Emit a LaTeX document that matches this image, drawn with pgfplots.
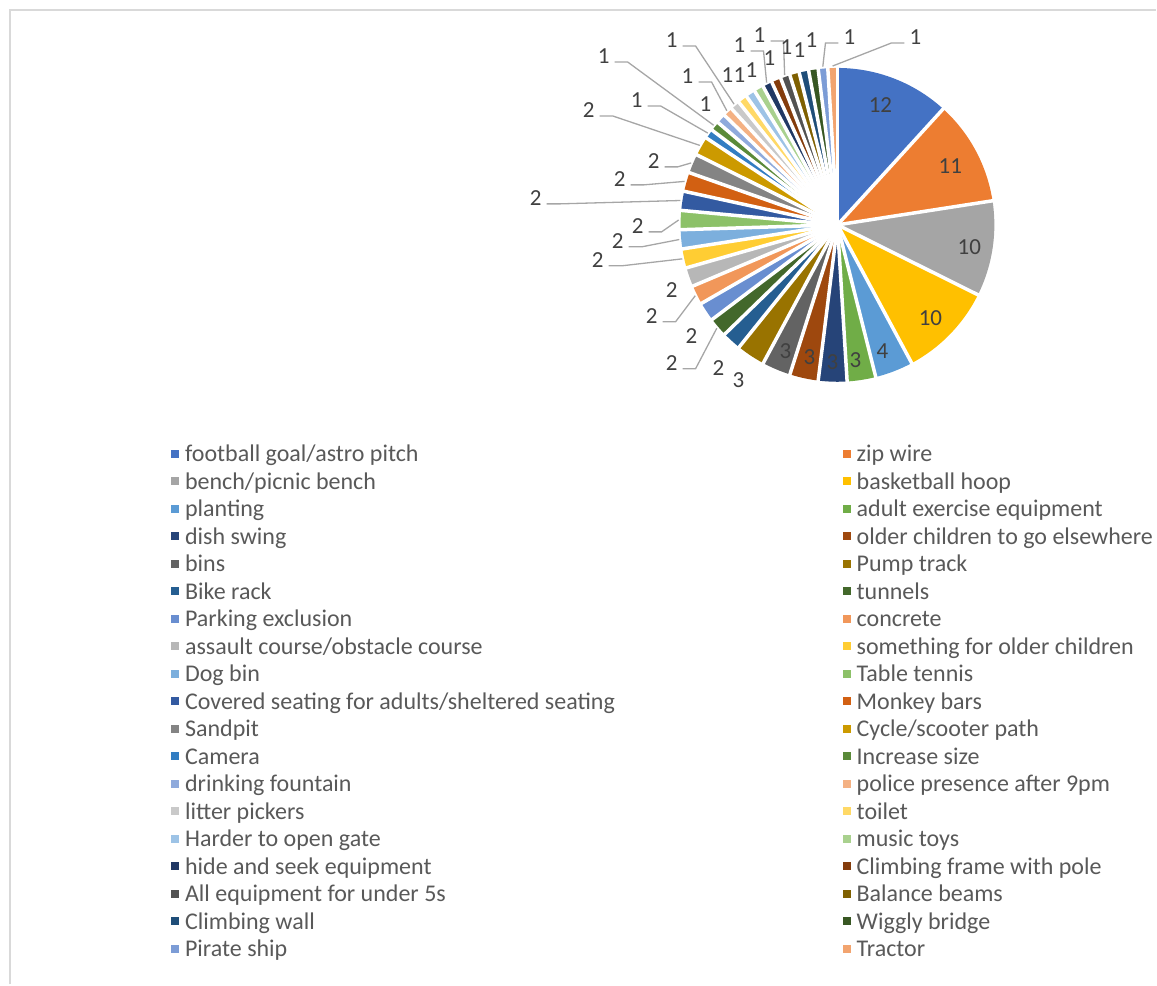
\documentclass[border=0pt]{standalone}
\usepackage{pgfplots}
\pgfplotsset{compat=1.18}
\usepackage{pgfplotstable}
\usepackage{fontspec}
\setmainfont{Carlito}

\definecolor{c0}{HTML}{4472C4}\definecolor{c1}{HTML}{ED7D31}\definecolor{c2}{HTML}{A5A5A5}
\definecolor{c3}{HTML}{FFC000}\definecolor{c4}{HTML}{5B9BD5}\definecolor{c5}{HTML}{70AD47}
\definecolor{c6}{HTML}{264478}\definecolor{c7}{HTML}{9E480E}\definecolor{c8}{HTML}{636363}
\definecolor{c9}{HTML}{997300}\definecolor{c10}{HTML}{255E91}\definecolor{c11}{HTML}{43682B}
\definecolor{c12}{HTML}{698ED0}\definecolor{c13}{HTML}{F1975A}\definecolor{c14}{HTML}{B7B7B7}
\definecolor{c15}{HTML}{FFCD33}\definecolor{c16}{HTML}{7CAFDD}\definecolor{c17}{HTML}{8CC168}
\definecolor{c18}{HTML}{335AA1}\definecolor{c19}{HTML}{D26012}\definecolor{c20}{HTML}{848484}
\definecolor{c21}{HTML}{CC9A00}\definecolor{c22}{HTML}{327DC2}\definecolor{c23}{HTML}{5A8A39}
\definecolor{c24}{HTML}{8FAADC}\definecolor{c25}{HTML}{F4B183}\definecolor{c26}{HTML}{C9C9C9}
\definecolor{c27}{HTML}{FFD966}\definecolor{c28}{HTML}{9DC3E6}\definecolor{c29}{HTML}{A9D18E}
\definecolor{c30}{HTML}{203864}\definecolor{c31}{HTML}{843C0C}\definecolor{c32}{HTML}{525252}
\definecolor{c33}{HTML}{7F6000}\definecolor{c34}{HTML}{1F4E79}\definecolor{c35}{HTML}{385723}
\definecolor{c36}{HTML}{7C9CD6}\definecolor{c37}{HTML}{F2A46F}
\definecolor{lbl}{HTML}{404040}
\definecolor{legtxt}{HTML}{595959}
\definecolor{leader}{HTML}{A6A6A6}
\definecolor{frame}{HTML}{D9D9D9}

% value of each slice; lx,ly = label position in px (from top left);
% lead: 0 no leader line, 1 line leaves to the right, -1 to the left
\pgfplotstableread[col sep=comma]{
name,val,lx,ly,lead
football goal/astro pitch,12,881,105,0
zip wire,11,951,166,0
bench/picnic bench,10,970,247,0
basketball hoop,10,931,318,0
planting,4,883,351,0
adult exercise equipment,3,856,360,0
dish swing,3,833,362,0
older children to go elsewhere,3,810,357,0
bins,3,786,351,0
Pump track,3,739,380,0
Bike rack,2,719,368,0
tunnels,2,672,363,1
Parking exclusion,2,692,336,0
concrete,2,652,316,1
assault course/obstacle course,2,672,290,0
something for older children,2,598,260,1
Dog bin,2,618,241,1
Table tennis,2,638,226,1
Covered seating for adults/sheltered seating,2,536,198,1
Monkey bars,2,620,179,1
Sandpit,2,654,161,1
Cycle/scooter path,2,589,110,1
Camera,1,637,100,1
Increase size,1,604,56,1
drinking fountain,1,706,104,0
police presence after 9pm,1,688,76,1
litter pickers,1,672,40,1
toilet,1,728,75,0
Harder to open gate,1,740,75,0
music toys,1,752,70,0
hide and seek equipment,1,740,45,1
Climbing frame with pole,1,770,58,0
All equipment for under 5s,1,760,35,1
Balance beams,1,787,47,0
Climbing wall,1,800,50,0
Wiggly bridge,1,812,40,0
Pirate ship,1,850,37,-1
Tractor,1,916,37,-1
}\slices

\def\cx{838}\def\cy{225}\def\rad{157}

\pgfplotstablegetrowsof{\slices}
\pgfmathtruncatemacro\nlast{\pgfplotsretval-1}
\def\total{0}
\pgfplotsforeachungrouped \i in {0,...,\nlast}{%
  \pgfplotstablegetelem{\i}{val}\of\slices
  \pgfmathsetmacro\total{\total+\pgfplotsretval}}

\def\cum{0}
\pgfplotsforeachungrouped \i in {0,...,\nlast}{%
  \pgfplotstablegetelem{\i}{val}\of\slices \let\sv\pgfplotsretval
  \pgfmathsetmacro\ta{90-360*(\cum/\total)}%
  \pgfmathsetmacro\cum{\cum+\sv}%
  \pgfmathsetmacro\tb{90-360*(\cum/\total)}%
  \pgfmathsetmacro\tm{(\ta+\tb)/2}%
  \pgfmathsetmacro\ex{\cx+(\rad+2)*cos(\tm)}%
  \pgfmathsetmacro\ey{\cy-(\rad+2)*sin(\tm)}%
  \expandafter\xdef\csname ta\i\endcsname{\ta}%
  \expandafter\xdef\csname tb\i\endcsname{\tb}%
  \expandafter\xdef\csname sv\i\endcsname{\sv}%
  \expandafter\xdef\csname ex\i\endcsname{\ex}%
  \expandafter\xdef\csname ey\i\endcsname{\ey}%
  \pgfplotstablegetelem{\i}{name}\of\slices
  \expandafter\xdef\csname nm\i\endcsname{\pgfplotsretval}%
  \pgfplotstablegetelem{\i}{lx}\of\slices \let\lx\pgfplotsretval
  \pgfplotstablegetelem{\i}{ly}\of\slices \let\ly\pgfplotsretval
  \pgfplotstablegetelem{\i}{lead}\of\slices \let\ld\pgfplotsretval
  \expandafter\xdef\csname lx\i\endcsname{\lx}%
  \expandafter\xdef\csname ly\i\endcsname{\ly}%
  \expandafter\xdef\csname ld\i\endcsname{\ld}%
  \pgfmathsetmacro\sx{\lx+\ld*11}%
  \pgfmathsetmacro\kx{\lx+\ld*24}%
  \pgfmathsetmacro\sy{\ly+6}%
  \expandafter\xdef\csname sx\i\endcsname{\sx}%
  \expandafter\xdef\csname kx\i\endcsname{\kx}%
  \expandafter\xdef\csname sy\i\endcsname{\sy}%
}

\begin{document}
\begin{tikzpicture}
\begin{axis}[
    width=1157pt, height=985pt, scale only axis,
    xmin=0, xmax=1157, ymin=0, ymax=985, y dir=reverse,
    hide axis, clip=false,
    legend columns=2,
    legend cell align=left,
    legend image code/.code={\fill[#1] (0pt,-2pt) rectangle (8pt,6pt);},
    legend style={at={(axis cs:171,444)}, anchor=north west, draw=none, fill=none,
      font=\fontsize{24}{27.5}\selectfont, text=legtxt, inner sep=0pt,
      row sep=3.5pt,
      nodes={inner sep=0pt, text height=18pt, text depth=6pt},
      /tikz/every odd column/.append style={column sep=6pt},
      /tikz/every even column/.append style={column sep=228pt}},
  ]
  \path (axis cs:0,0) rectangle (axis cs:1157,985);
  \draw[frame, line width=1.5pt] (axis cs:10,985) -- (axis cs:10,10) -- (axis cs:1157,10);

  \pgfplotsinvokeforeach{0,...,\nlast}{%
    \addplot[draw=none, fill=c#1, domain=\csname tb#1\endcsname:\csname ta#1\endcsname,
             samples=40, variable=\t]
      ({\cx+\rad*cos(\t)}, {\cy-\rad*sin(\t)}) -- (axis cs:\cx,\cy) -- cycle;
    \addlegendentryexpanded{\csname nm#1\endcsname}
  }

  \pgfplotsinvokeforeach{0,...,\nlast}{%
    \draw[white, line width=3.5pt] (axis cs:\cx,\cy) --
      (axis cs:{\cx+(\rad+3)*cos(\csname ta#1\endcsname)},{\cy-(\rad+3)*sin(\csname ta#1\endcsname)});
  }

  \pgfplotsinvokeforeach{0,...,\nlast}{%
    \node[font=\fontsize{23}{27}\selectfont, text=lbl, inner sep=0pt]
      at (axis cs:\csname lx#1\endcsname,\csname ly#1\endcsname) {\csname sv#1\endcsname};
    \ifnum\csname ld#1\endcsname=0 \else
      \draw[leader, line width=1.3pt]
        (axis cs:\csname sx#1\endcsname,\csname sy#1\endcsname) --
        (axis cs:\csname kx#1\endcsname,\csname sy#1\endcsname) --
        (axis cs:\csname ex#1\endcsname,\csname ey#1\endcsname);
    \fi
  }
\end{axis}
\end{tikzpicture}
\end{document}
